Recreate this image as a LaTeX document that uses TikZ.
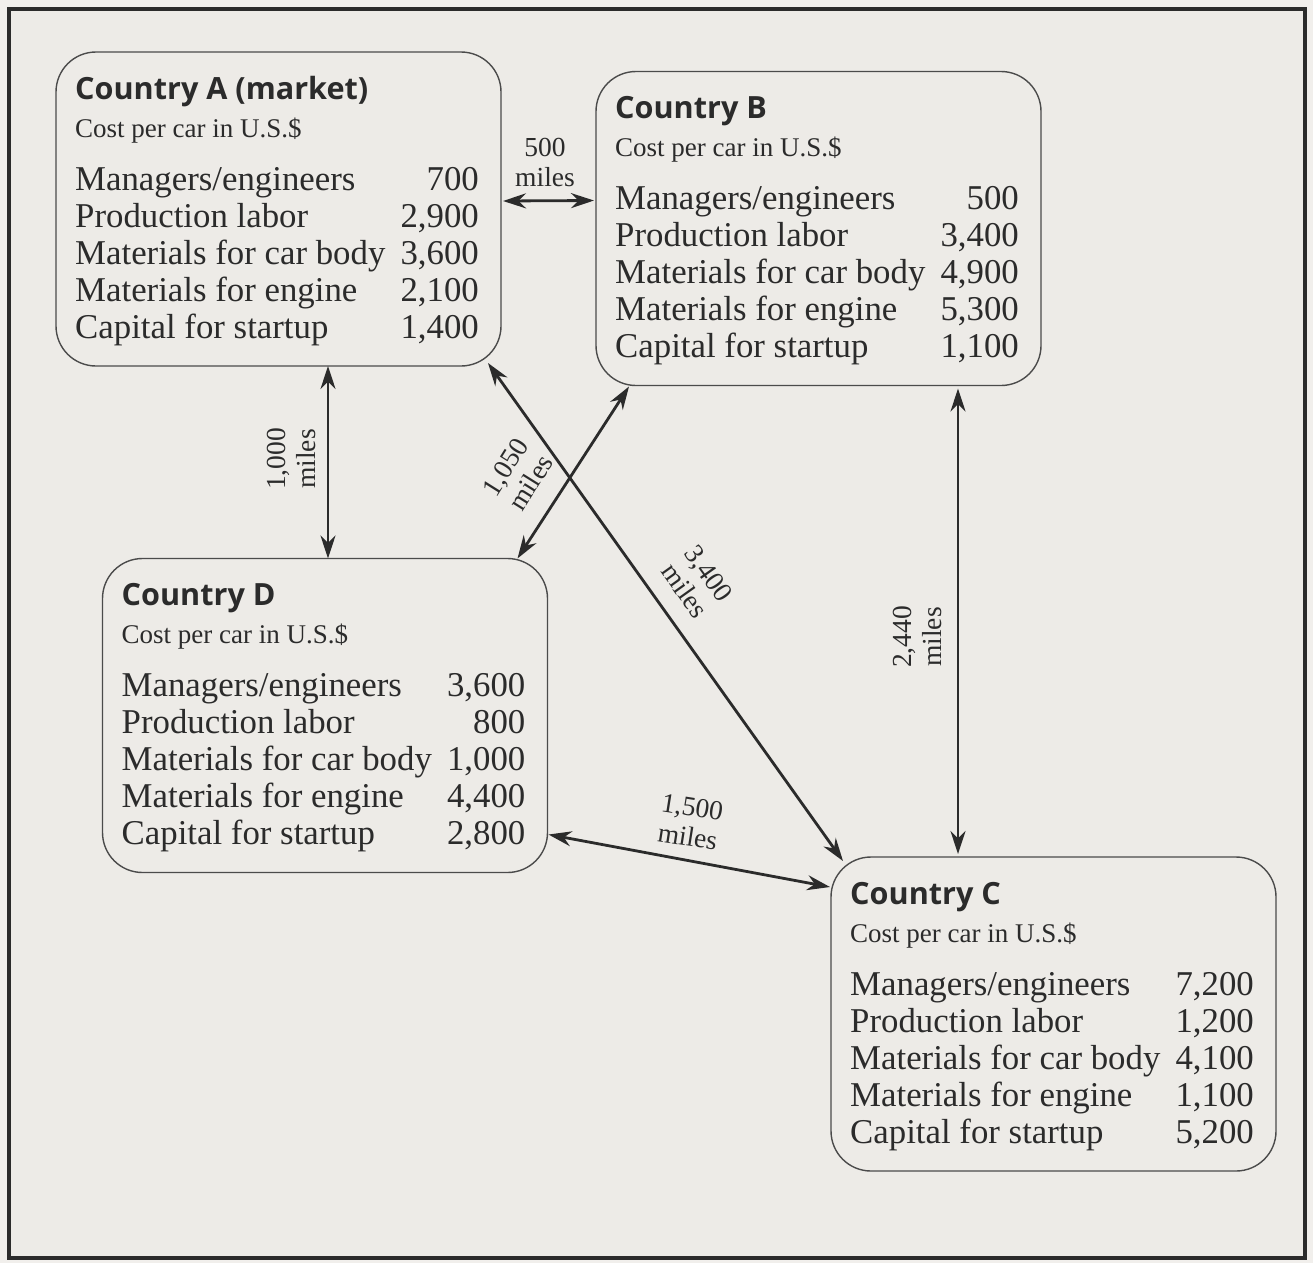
\documentclass[tikz,border=0pt]{standalone}
\usepackage{fontspec}
\setmainfont{Liberation Serif}
\newfontfamily\titlefont{Open Sans}
\usetikzlibrary{arrows.meta,calc}
\definecolor{bg}{HTML}{EDEBE7}
\definecolor{outbg}{HTML}{F1EFEC}
\definecolor{ink}{HTML}{2B2B2B}
\tikzset{
 box/.style={draw=ink!85, line width=1.4pt, rounded corners=40pt, minimum width=445pt, minimum height=314pt, inner sep=0pt, outer sep=0pt},
 ttl/.style={anchor=base west, inner sep=0pt, font=\titlefont\bfseries\fontsize{30.6}{30.6}\selectfont, text=ink},
 sub/.style={anchor=base west, inner sep=0pt, font=\fontsize{27}{27}\selectfont, text=ink},
 row/.style={anchor=base west, inner sep=0pt, font=\fontsize{34.8}{34.8}\selectfont, text=ink},
 num/.style={anchor=base east, inner sep=0pt, font=\fontsize{34.8}{34.8}\selectfont, text=ink},
 lbl/.style={align=center, inner sep=0pt, font=\fontsize{27.5}{30}\selectfont, text=ink},
 dbl/.style={draw=ink, line width=2.8pt, {Stealth[length=23pt,width=15pt]}-{Stealth[length=23pt,width=15pt]}},
}
\newcommand\costbox[7]{%
 \node[ttl] (#1t) at ($(#1.north west)+(19,47)$) {#2};
 \node[sub] (#1s) at ($(#1.north west)+(19,85)$) {Cost per car in U.S.\$};
 \node[row] (#1r1) at ($(#1.north west)+(19,138)$) {Managers/engineers};
 \node[row] (#1r2) at ($(#1.north west)+(19,175)$) {Production labor};
 \node[row] (#1r3) at ($(#1.north west)+(19,212)$) {Materials for car body};
 \node[row] (#1r4) at ($(#1.north west)+(19,249)$) {Materials for engine};
 \node[row] (#1r5) at ($(#1.north west)+(19,286)$) {Capital for startup};
 \node[num] (#1v1) at ($(#1.north east)+(-22,138)$) {#3};
 \node[num] (#1v2) at ($(#1.north east)+(-22,175)$) {#4};
 \node[num] (#1v3) at ($(#1.north east)+(-22,212)$) {#5};
 \node[num] (#1v4) at ($(#1.north east)+(-22,249)$) {#6};
 \node[num] (#1v5) at ($(#1.north east)+(-22,286)$) {#7};
}
\begin{document}
\begin{tikzpicture}[x=1pt,y=-1pt]
\path[use as bounding box, fill=outbg] (0,0) rectangle (1313,1263);
\draw[line width=4pt, draw=ink, fill=bg] (9,9) rectangle (1305,1258);

\node[box] (A) at (278.5,209) {};
\node[box] (B) at (818.5,228.5) {};
\node[box] (D) at (325,715.5) {};
\node[box] (C) at (1053.5,1014) {};

\costbox{A}{Country A (market)}{700}{2,900}{3,600}{2,100}{1,400}
\costbox{B}{Country B}{500}{3,400}{4,900}{5,300}{1,100}
\costbox{D}{Country D}{3,600}{800}{1,000}{4,400}{2,800}
\costbox{C}{Country C}{7,200}{1,200}{4,100}{1,100}{5,200}

% connectors
\draw[dbl] ($(A.north east)+(2,149)$) -- ($(B.north west)+(-2,129)$);
\draw[dbl] ($(A.south)+(49.5,0)$) -- ($(D.north)+(3,0)$);
\draw[dbl] ($(B.south west)+(33,1)$) -- ($(D.north east)+(-30,0)$);
\draw[dbl] ($(A.south east)+(-13,-3)$) -- ($(C.north west)+(12,4)$);
\draw[dbl] ($(B.south)+(139.5,3)$) -- ($(C.north)+(-95.5,-3)$);
\draw[dbl] ($(D.south east)+(1,-38)$) -- ($(C.north west)+(-1,30)$);

% labels
\node[lbl] (lAB) at (545,162) {500\\miles};
\node[lbl, rotate=90] (lAD) at (291,459) {1,000\\miles};
\node[lbl, rotate=58] (lBD) at (518,475) {1,050\\miles};
\node[lbl, rotate=-54.5] (lAC) at (697,582) {3,400\\miles};
\node[lbl, rotate=90] (lBC) at (917,637) {2,440\\miles};
\node[lbl, rotate=-9] (lDC) at (690,822) {1,500\\miles};
\end{tikzpicture}
\end{document}
